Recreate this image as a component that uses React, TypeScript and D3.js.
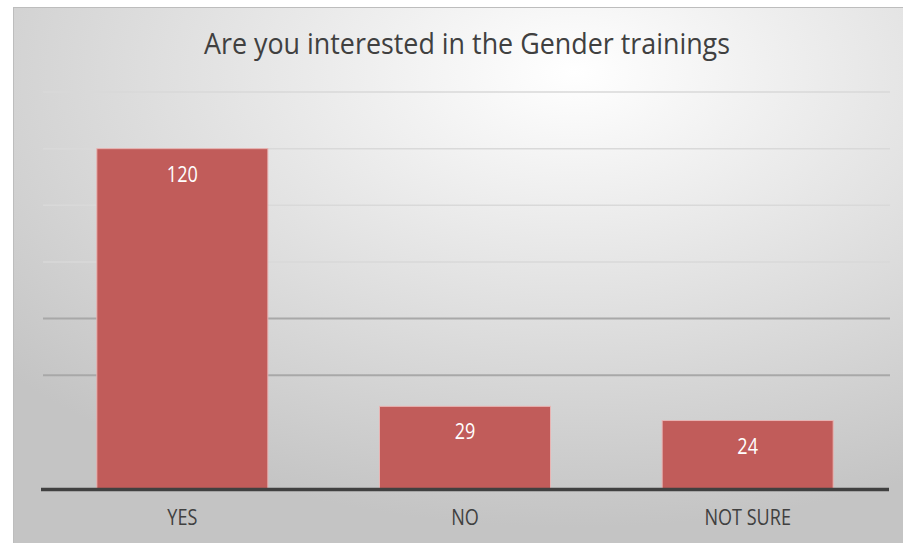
import React from 'react';
import * as d3 from 'd3';

const categories = ['YES', 'NO', 'NOT SURE'];
const counts = [120, 29, 24];
const gridTicks = [40, 60, 80, 100, 120, 140];
const title = 'Are you interested in the Gender trainings';

const W = 903;
const H = 543;
const font = "'Open Sans', 'Noto Sans', sans-serif";

// narrow text, the original font is a condensed one
const Label = ({ x, y, size, fill, children }: { x: number; y: number; size: number; fill: string; children: React.ReactNode }) => (
  <text transform={`translate(${x},${y}) scale(0.86,1)`} textAnchor="middle" fontFamily={font} fontSize={size} fill={fill}>
    {children}
  </text>
);

export default function App() {
  const x = d3.scaleBand<string>().domain(categories).range([41, 889]).paddingInner(0.395).paddingOuter(0.1975);
  const y = d3.scaleLinear().domain([0, 140]).range([488.5, 92]);
  const mid = (c: string) => (x(c) ?? 0) + x.bandwidth() / 2;

  return (
    <svg width={W} height={H} style={{ position: 'absolute', left: 0, top: 0 }}>
      <defs>
        <radialGradient id="bg" cx="0.63" cy="0.12" r="0.85" fx="0.63" fy="0.12">
          <stop offset="0" stopColor="#ffffff" />
          <stop offset="1" stopColor="#c4c4c4" />
        </radialGradient>
      </defs>
      <rect x={13.5} y={7.5} width={W - 13} height={H - 7} fill="url(#bg)" stroke="#bdbdbd" />
      <text x={467} y={54} textAnchor="middle" fontFamily={font} fontSize={29} fill="#404040" textLength={526} lengthAdjust="spacingAndGlyphs">
        {title}
      </text>
      {gridTicks.map(t => (
        <line key={t} x1={43} x2={890} y1={y(t)} y2={y(t)} stroke={t <= 60 ? '#a8a8a8' : '#d9d9d9'} strokeWidth={t <= 60 ? 2 : 1.5} />
      ))}
      {categories.map((c, i) => (
        <g key={c}>
          <rect x={x(c)} y={y(counts[i])} width={x.bandwidth()} height={y(0) - y(counts[i])} fill="#c15c5a" stroke="#e8b4b3" strokeWidth={1} />
          <Label x={mid(c)} y={y(counts[i]) + 33} size={21} fill="#ffffff">{counts[i]}</Label>
          <Label x={mid(c)} y={525} size={21} fill="#404040">{c}</Label>
        </g>
      ))}
      <line x1={41} x2={889} y1={y(0) + 1} y2={y(0) + 1} stroke="#404040" strokeWidth={3.5} />
    </svg>
  );
}
